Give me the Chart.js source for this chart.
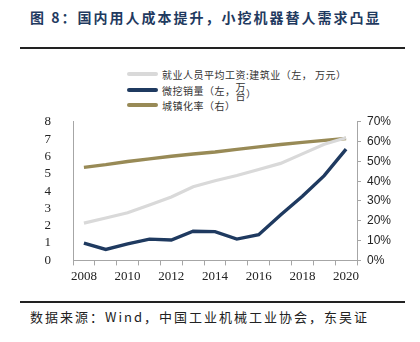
<!DOCTYPE html>
<html>
<head>
<meta charset="utf-8">
<script src="https://cdn.jsdelivr.net/npm/chart.js@4"></script>
<style>
  html, body { margin: 0; padding: 0; width: 420px; height: 342px; overflow: hidden; background: #fff; position: relative; }
  .leg { position: absolute; left: 127px; height: 14px; font-family: "Noto Sans CJK SC", sans-serif; font-size: 10px; letter-spacing: 0.5px; color: #333; white-space: nowrap; }
  .leg i { display: inline-block; width: 31px; height: 4px; vertical-align: middle; margin-right: 4px; border-radius: 2px; }
  .leg span { vertical-align: middle; }
  .txt { position: absolute; left: 30px; font-family: "Noto Sans CJK SC", sans-serif; font-size: 13px; letter-spacing: 2px; color: #222; white-space: nowrap; }
</style>
</head>
<body>
<div class="txt" style="top:7px; font-weight:bold; font-size:14px; color:#1f3a60;">图 8：国内用人成本提升，小挖机器替人需求凸显</div>
<div style="position:absolute; left:20px; top:47px; width:385px; height:2px; background:#222;"></div>

<div class="leg" style="top:65px"><i style="background:#d9d9d9"></i><span>就业人员平均工资:建筑业（左， 万元）</span></div>
<div class="leg" style="top:81px"><i style="background:#1f3a60"></i><span>微挖销量（左，</span><span style="display:inline-block; line-height:9px; vertical-align:top; margin-top:1px;">万<br>台</span><span style="position:relative; top:3px;">）</span></div>
<div class="leg" style="top:96px"><i style="background:#988a56"></i><span>城镇化率（右）</span></div>

<div style="position:absolute; left:0; top:100px; width:420px; height:200px;"><canvas id="chart"></canvas></div>

<div style="position:absolute; left:20px; top:301px; width:385px; height:2px; background:#222;"></div>
<div class="txt" style="top:307px">数据来源：Wind，中国工业机械工业协会，东吴证</div>
<div class="txt" style="top:339px">券研究所</div>

<script>
const years = ['2008', '2009', '2010', '2011', '2012', '2013', '2014', '2015', '2016', '2017', '2018', '2019', '2020'];
// 就业人员平均工资:建筑业 (万元)
const wages = [2.15, 2.45, 2.75, 3.2, 3.66, 4.25, 4.6, 4.9, 5.25, 5.6, 6.15, 6.7, 7.08];
// 微挖销量 (万台)
const miniExcavators = [1.0, 0.63, 0.95, 1.23, 1.18, 1.68, 1.66, 1.23, 1.48, 2.62, 3.7, 4.89, 6.42];
// 城镇化率 (%)
const urbanization = [46.99, 48.34, 49.95, 51.27, 52.57, 53.73, 54.77, 56.1, 57.35, 58.52, 59.58, 60.6, 61.6];
const leftTicks = [0, 1, 2, 3, 4, 5, 6, 7, 8];
const rightTicks = [0, 10, 20, 30, 40, 50, 60, 70];

const axisColor = '#a6a6a6';
const serif = 'Liberation Serif';

new Chart(document.getElementById('chart'), {
  type: 'line',
  data: {
    labels: years,
    datasets: [
      { label: '就业人员平均工资:建筑业（左， 万元）', data: wages, yAxisID: 'y', borderColor: '#d9d9d9', borderWidth: 3.2, pointRadius: 0, tension: 0 },
      { label: '微挖销量（左，万台）', data: miniExcavators, yAxisID: 'y', borderColor: '#1f3a60', borderWidth: 3.4, pointRadius: 0, tension: 0 },
      { label: '城镇化率（右）', data: urbanization, yAxisID: 'y1', borderColor: '#988a56', borderWidth: 3.4, pointRadius: 0, tension: 0 }
    ]
  },
  options: {
    responsive: true,
    maintainAspectRatio: false,
    animation: false,
    layout: { padding: { top: 16, bottom: 13, left: 0, right: 0 } },
    plugins: { legend: { display: false }, tooltip: { enabled: false } },
    scales: {
      x: {
        offset: true,
        grid: { display: true, offset: true, drawOnChartArea: false, tickLength: 5, color: axisColor },
        border: { color: axisColor },
        ticks: {
          autoSkip: false, maxRotation: 0, padding: 3, color: '#222',
          font: { family: serif, size: 13 },
          callback: (v, i) => (i % 2 === 0 ? years[i] : '')
        }
      },
      y: {
        position: 'left',
        min: 0, max: 8,
        afterBuildTicks: s => { s.ticks = leftTicks.map(v => ({ value: v })); },
        afterFit: s => { s.width = 73; },
        grid: { display: false },
        border: { display: true, color: axisColor },
        ticks: { autoSkip: false, padding: 14, color: '#222', font: { family: serif, size: 13 } }
      },
      y1: {
        position: 'right',
        min: 0, max: 70,
        afterBuildTicks: s => { s.ticks = rightTicks.map(v => ({ value: v })); },
        afterFit: s => { s.width = 63; },
        grid: { display: true, drawOnChartArea: false, tickLength: 4, color: axisColor },
        border: { display: true, color: axisColor },
        ticks: { autoSkip: false, padding: 6, color: '#222', font: { family: 'Liberation Sans', size: 12 }, callback: v => v + '%' }
      }
    }
  }
});
</script>
</body>
</html>
